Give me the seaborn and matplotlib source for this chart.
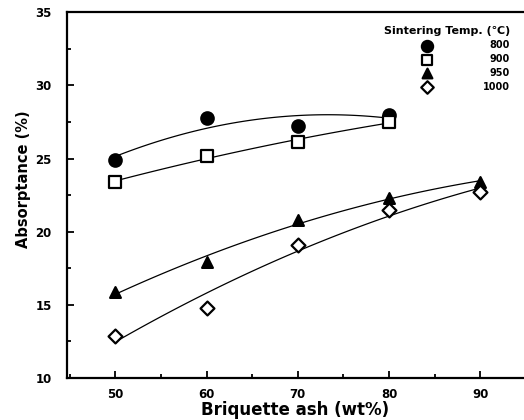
import matplotlib
matplotlib.use("Agg")
import matplotlib.pyplot as plt
import seaborn as sns
import pandas as pd
from matplotlib.ticker import MultipleLocator

sns.set_theme(style="ticks")
plt.rcParams['font.family'] = ['DejaVu Sans']
plt.rcParams['font.weight'] = 'bold'
for k in ["text.color", "axes.labelcolor", "xtick.color", "ytick.color", "axes.edgecolor"]:
    plt.rcParams[k] = "black"

x_800 = [50, 60, 70, 80]
y_800 = [24.9, 27.8, 27.2, 28.0]
x_900 = [50, 60, 70, 80]
y_900 = [23.4, 25.2, 26.1, 27.5]
x_950 = [50, 60, 70, 80, 90]
y_950 = [15.9, 17.9, 20.8, 22.3, 23.4]
x_1000 = [50, 60, 70, 80, 90]
y_1000 = [12.9, 14.8, 19.1, 21.5, 22.7]

series_labels = ["800", "900", "950", "1000"]
legend_title = "Sintering Temp. (\u2103)"
xlabel = "Briquette ash (wt%)"
ylabel = "Absorptance (%)"

styles = {
    "800": dict(marker="o", facecolor="black", s=80),
    "900": dict(marker="s", facecolor="white", s=75),
    "950": dict(marker="^", facecolor="black", s=60),
    "1000": dict(marker="D", facecolor="white", s=50),
}

fig = plt.figure(figsize=(5.24, 4.2), dpi=100)
ax = fig.add_axes([0.128, 0.1, 0.872, 0.871])

data = {"800": (x_800, y_800), "900": (x_900, y_900),
        "950": (x_950, y_950), "1000": (x_1000, y_1000)}

for lab in series_labels:
    xs, ys = data[lab]
    df = pd.DataFrame({"x": xs, "y": ys})
    sns.regplot(data=df, x="x", y="y", order=2, ci=None, scatter=False,
                truncate=True, ax=ax, line_kws=dict(color="black", lw=0.9))
    st = styles[lab]
    sns.scatterplot(data=df, x="x", y="y", marker=st["marker"], s=st["s"],
                    facecolor=st["facecolor"], edgecolor="black", linewidth=1.6,
                    ax=ax, label=lab, zorder=5)

ax.set_xlim(44.7, 94.8)
ax.set_ylim(10, 35)
ax.xaxis.set_major_locator(MultipleLocator(10))
ax.xaxis.set_minor_locator(MultipleLocator(5))
ax.yaxis.set_major_locator(MultipleLocator(5))
ax.yaxis.set_minor_locator(MultipleLocator(2.5))
ax.tick_params(which="both", direction="in", top=False, right=False, width=1.3,
               colors="black")
ax.tick_params(which="major", length=5)
ax.tick_params(which="minor", length=3)
ax.tick_params(axis="y", pad=11, labelsize=8.5)
ax.tick_params(axis="x", pad=7, labelsize=8.5)
for t in ax.get_xticklabels() + ax.get_yticklabels():
    t.set_fontweight("bold")

for sp in ["left", "bottom", "top"]:
    ax.spines[sp].set_linewidth(1.6)
    ax.spines[sp].set_color("black")
ax.spines["right"].set_visible(False)

ax.set_xlabel(xlabel, fontsize=12, fontweight="bold", color="black")
ax.set_ylabel(ylabel, fontsize=10.5, fontweight="bold", color="black")
ax.xaxis.set_label_coords(0.5, -0.062)
ax.yaxis.set_label_coords(-0.08, 0.544)

leg = ax.legend(title=legend_title, loc="upper right", bbox_to_anchor=(0.978, 0.972),
                frameon=False, fontsize=7, title_fontsize=8.0,
                handletextpad=4.8, labelspacing=0.4, borderaxespad=0.0,
                markerscale=0.9, alignment="right")
leg.get_title().set_fontweight("bold")
leg.get_title().set_color("black")
for t in leg.get_texts():
    t.set_fontweight("bold")
    t.set_color("black")

# right-align legend labels
fig.canvas.draw()
texts = leg.get_texts()
widths = [t.get_window_extent().width for t in texts]
wmax = max(widths)
for t, w in zip(texts, widths):
    t.set_x(wmax - w)

fig.savefig("out.png", dpi=100)
